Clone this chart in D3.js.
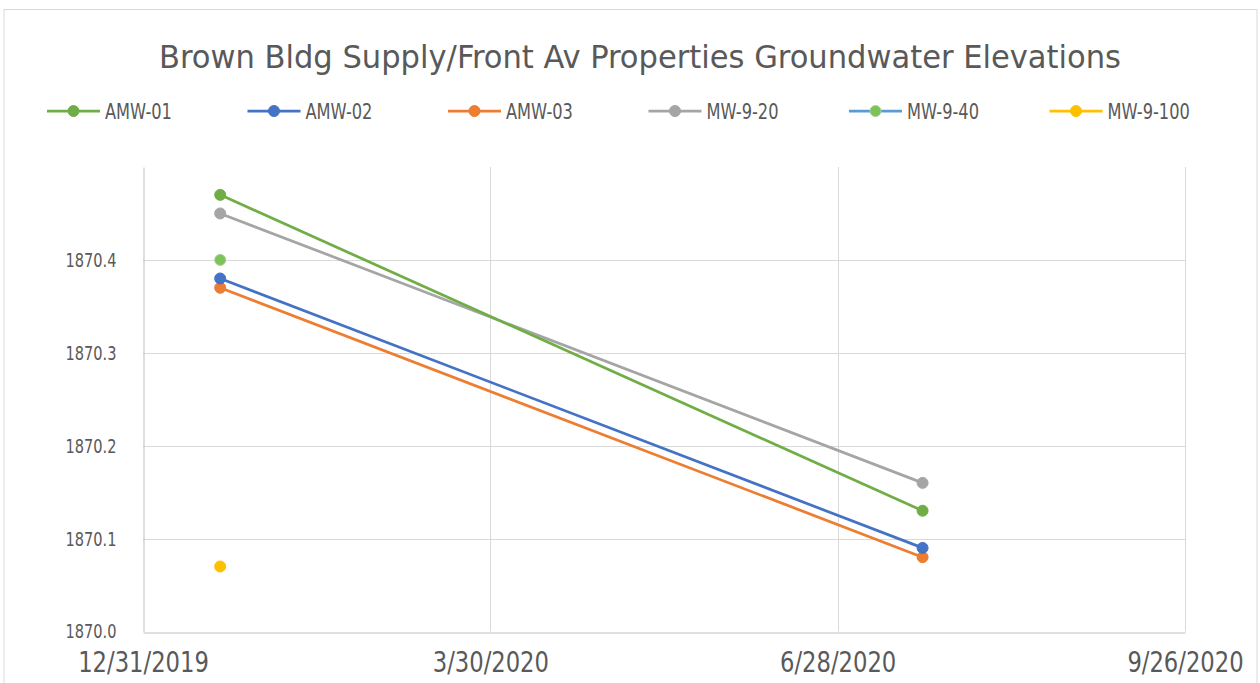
<!DOCTYPE html>
<html>
<head>
<meta charset="utf-8">
<script src="https://cdn.jsdelivr.net/npm/d3@7"></script>
<style>
  body { margin: 0; background: #fff; }
  text { font-family: "Liberation Sans Narrow", "DejaVu Sans Condensed", "Open Sans", sans-serif; fill: #595959; }
</style>
</head>
<body>
<div id="viz"></div>
<script>
// sampling dates and groundwater elevations per well
const dates = ["2020-01-20", "2020-07-20"];
const seriesNames = ["AMW-01", "AMW-02", "AMW-03", "MW-9-20", "MW-9-40", "MW-9-100"];
const amw01 = [1870.47, 1870.13];
const amw02 = [1870.38, 1870.09];
const amw03 = [1870.37, 1870.08];
const mw920 = [1870.45, 1870.16];
const mw940 = [1870.40, null];
const mw9100 = [1870.07, null];
const xTickLabels = ["12/31/2019", "3/30/2020", "6/28/2020", "9/26/2020"];
const yTicks = [1870.0, 1870.1, 1870.2, 1870.3, 1870.4];

const W = 1260, H = 683;
const margin = { left: 143, right: 75, top: 167, bottom: 51 };

const svg = d3.select("#viz")
    .append("svg")
    .attr("width", W)
    .attr("height", H);

// squeeze text horizontally so it looks like the narrow office font
function squeeze(sel, k) {
    sel.each(function () {
        const len = this.getComputedTextLength();
        d3.select(this)
            .attr("textLength", len * k)
            .attr("lengthAdjust", "spacingAndGlyphs");
    });
}

// chart border
svg.append("rect")
    .attr("x", 4).attr("y", 9.5)
    .attr("width", 1253).attr("height", 700)
    .attr("fill", "none")
    .attr("stroke", "#d9d9d9");

const parse = d3.timeParse("%m/%d/%Y");
const tickDates = xTickLabels.map(parse);

const x = d3.scaleTime()
    .domain([tickDates[0], tickDates[tickDates.length - 1]])
    .range([margin.left, W - margin.right]);

const y = d3.scaleLinear()
    .domain([1870.0, 1870.5])
    .range([H - margin.bottom - 0.5, margin.top]);

// horizontal gridlines
svg.append("g")
    .selectAll("line")
    .data(yTicks.slice(1))
    .enter()
    .append("line")
    .attr("x1", margin.left).attr("x2", W - margin.right)
    .attr("y1", (d) => Math.round(y(d)) + 0.5)
    .attr("y2", (d) => Math.round(y(d)) + 0.5)
    .attr("stroke", "#d9d9d9");

// vertical gridlines
svg.append("g")
    .selectAll("line")
    .data(tickDates.slice(1))
    .enter()
    .append("line")
    .attr("x1", (d) => Math.round(x(d)) + 0.5)
    .attr("x2", (d) => Math.round(x(d)) + 0.5)
    .attr("y1", margin.top).attr("y2", y(1870.0))
    .attr("stroke", "#d9d9d9");

// axes
const yAxis = svg.append("g")
    .attr("transform", `translate(${margin.left + 0.5},0)`)
    .call(d3.axisLeft(y).tickValues(yTicks).tickFormat(d3.format(".1f")).tickSize(0).tickPadding(27));
yAxis.select(".domain").attr("stroke", "#bfbfbf");
yAxis.selectAll("text").attr("font-size", 20).style("font-family", null).call(squeeze, 0.81);

const xAxis = svg.append("g")
    .attr("transform", `translate(0,${Math.round(y(1870.0)) + 0.5})`)
    .call(d3.axisBottom(x).tickValues(tickDates).tickFormat(d3.timeFormat("%-m/%-d/%Y")).tickSize(0).tickPadding(20));
xAxis.select(".domain").attr("stroke", "#bfbfbf");
xAxis.selectAll("text").attr("font-size", 28).style("font-family", null).call(squeeze, 0.9);

// series lines and markers
const lineColors = ["#70ad47", "#4472c4", "#ed7d31", "#a5a5a5", "#5b9bd5", "#ffc000"];
const markerColors = ["#70ad47", "#4472c4", "#ed7d31", "#a5a5a5", "#7cc35a", "#ffc000"];
const seriesValues = [amw01, amw02, amw03, mw920, mw940, mw9100];
const dateObjs = dates.map(d3.timeParse("%Y-%m-%d"));

const series = seriesNames.map((name, i) => ({
    name: name,
    points: dateObjs.map((d, j) => ({ date: d, value: seriesValues[i][j] }))
        .filter((p) => p.value !== null)
}));

const line = d3.line()
    .x((d) => x(d.date))
    .y((d) => y(d.value));

const drawOrder = [5, 4, 3, 2, 1, 0];
drawOrder.forEach((i) => {
    const s = series[i];
    svg.append("path")
        .datum(s.points)
        .attr("fill", "none")
        .attr("stroke", lineColors[i])
        .attr("stroke-width", 2.75)
        .attr("d", line);
    svg.selectAll(null)
        .data(s.points)
        .enter()
        .append("circle")
        .attr("cx", (d) => x(d.date))
        .attr("cy", (d) => y(d.value))
        .attr("r", 5.5)
        .attr("fill", markerColors[i])
        .attr("stroke", i === 4 ? "#a9d08e" : markerColors[i])
        .attr("stroke-width", 1);
});

// title
svg.append("text")
    .attr("x", 640)
    .attr("y", 68)
    .attr("text-anchor", "middle")
    .attr("font-size", 32)
    .attr("textLength", 962)
    .attr("lengthAdjust", "spacingAndGlyphs")
    .text("Brown Bldg Supply/Front Av Properties Groundwater Elevations");

// legend
const legend = svg.append("g");
seriesNames.forEach((name, i) => {
    const lx = 47 + i * 200.5;
    const g = legend.append("g").attr("transform", `translate(${lx},111)`);
    g.append("line")
        .attr("x1", 0).attr("x2", 53)
        .attr("stroke", lineColors[i])
        .attr("stroke-width", 2.75);
    g.append("circle")
        .attr("cx", 26.5).attr("r", 5.5)
        .attr("fill", markerColors[i])
        .attr("stroke", i === 4 ? "#a9d08e" : markerColors[i]);
    g.append("text")
        .attr("x", 58)
        .attr("dy", "0.36em")
        .attr("font-size", 22)
        .text(name)
        .call(squeeze, 0.82);
});
</script>
</body>
</html>
